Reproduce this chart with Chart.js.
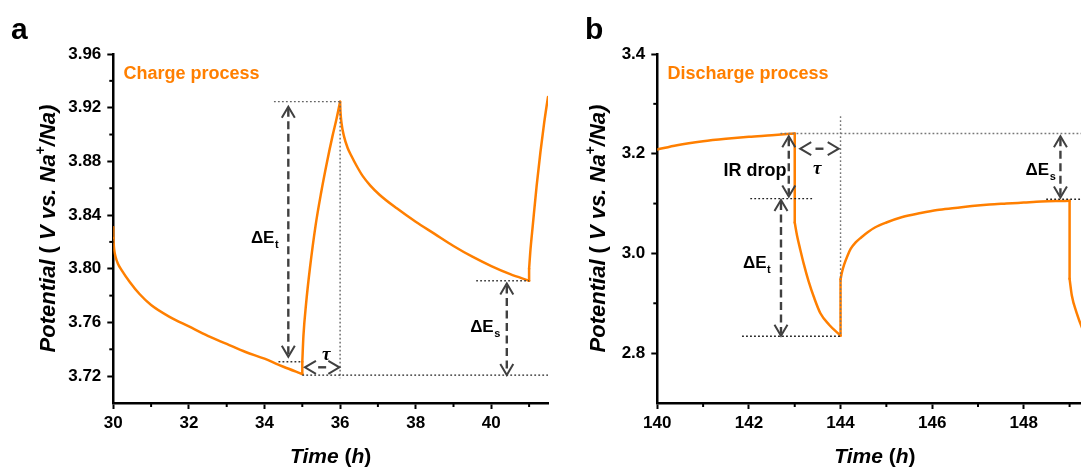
<!DOCTYPE html>
<html><head><meta charset="utf-8">
<script src="https://cdn.jsdelivr.net/npm/chart.js@4.4.0/dist/chart.umd.min.js"></script>
<style>
html,body{margin:0;padding:0;background:#fff;overflow:hidden;width:1081px;height:467px;position:relative;}
.wrap{position:absolute;top:0;width:560px;height:467px;}
</style></head><body>
<div class="wrap" style="left:0"><canvas id="cA" width="560" height="467"></canvas></div>
<div class="wrap" style="left:560px"><canvas id="cB" width="560" height="467"></canvas></div>
<script>
// ---------- data (a repeated time = vertical step) ----------
const timeA = [30.0,30.0,30.02,30.06,30.12,30.22,30.44,30.7,31.0,31.5,32.0,32.5,33.0,33.5,34.0,34.5,35.0,
  35.0,35.03,35.1,35.2,35.35,35.5,35.65,35.8,35.9,36.0,
  36.01,36.04,36.1,36.2,36.3,36.45,36.6,36.8,37.05,37.5,38.0,38.5,39.0,39.5,40.0,40.5,41.0,
  41.0,41.03,41.1,41.2,41.3,41.4,41.5,41.6];
const potA = [3.831,3.823,3.815,3.809,3.804,3.799,3.790,3.781,3.773,3.764,3.757,3.750,3.744,3.738,3.733,3.727,3.7216,
  3.7307,3.750,3.774,3.800,3.832,3.857,3.879,3.899,3.911,3.9245,
  3.917,3.908,3.899,3.890,3.884,3.876,3.869,3.862,3.855,3.845,3.835,3.826,3.817,3.809,3.802,3.796,3.7911,
  3.800,3.812,3.833,3.862,3.887,3.909,3.928,3.945];
const timeB = [140.0,140.43,141.0,141.5,142.0,142.5,143.0,
  143.0,143.05,143.12,143.2,143.3,143.42,143.56,143.75,144.0,
  144.0,144.03,144.08,144.15,144.22,144.33,144.45,144.6,144.75,145.0,145.35,145.75,146.11,146.5,146.87,147.25,147.62,148.0,148.38,148.7,149.0,
  149.0,149.05,149.15,149.28,149.4,149.5];
const potB = [3.2084,3.217,3.225,3.230,3.234,3.237,3.2405,
  3.062,3.036,3.008,2.978,2.945,2.912,2.880,2.857,2.835,
  2.948,2.962,2.978,2.995,3.009,3.022,3.032,3.043,3.052,3.062,3.073,3.081,3.087,3.091,3.095,3.098,3.100,3.102,3.104,3.105,3.1055,
  2.949,2.915,2.882,2.849,2.825,2.808];
const xTicksA = [30,32,34,36,38,40];
const xMinorA = [31,33,35,37,39,41];
const yTicksA = [3.72,3.76,3.80,3.84,3.88,3.92,3.96];
const yMinorA = [3.74,3.78,3.82,3.86,3.90,3.94];
const xTicksB = [140,142,144,146,148];
const xMinorB = [141,143,145,147,149];
const yTicksB = [2.8,3.0,3.2,3.4];
const yMinorB = [2.9,3.1,3.3];

const ORANGE = '#FF7F00';
const FONT = "'Liberation Sans', Arial, sans-serif";
const ARROW = '#404040';

const annA = [
  {type:'hdot', y:3.9245, x1:34.25, x2:36.0, c:'#666'},
  {type:'vdot', x:36.0, y1:3.9245, y2:3.7185, c:'#666'},
  {type:'hdot', y:3.7307, x1:34.37, x2:35.0, c:'#333'},
  {type:'hdot', y:3.7208, x1:35.0, x2:41.5, c:'#222'},
  {type:'hdot', y:3.7911, x1:39.6, x2:41.0, c:'#444'},
  {type:'varrow', x:34.63, y1:3.9207, y2:3.7344},
  {type:'harrow', y:3.7266, x1:35.07, x2:35.98},
  {type:'varrow', x:40.41, y1:3.7891, y2:3.7208},
  {type:'delta', x:33.64, y:3.819, sub:'t'},
  {type:'delta', x:39.44, y:3.7528, sub:'s'},
  {type:'tau', x:35.63, y:3.7324},
  {type:'text', x:30.27, y:3.9414, text:'Charge process', color:ORANGE}
];
const annB = [
  {type:'hdot', y:3.2406, x1:142.69, x2:149.5, c:'#777'},
  {type:'vdot', x:144.0, y1:3.2752, y2:2.835, c:'#777'},
  {type:'hdot', y:3.110, x1:142.03, x2:143.38, c:'#222'},
  {type:'hdot', y:2.834, x1:141.85, x2:144.0, c:'#222'},
  {type:'hdot', y:3.1086, x1:148.49, x2:149.5, c:'#222'},
  {type:'varrow', x:142.87, y1:3.2352, y2:3.114},
  {type:'varrow', x:142.70, y1:3.1072, y2:2.835},
  {type:'harrow', y:3.21, x1:143.12, x2:143.96},
  {type:'varrow', x:148.8, y1:3.2352, y2:3.112},
  {type:'text', x:141.445, y:3.155, text:'IR drop', color:'#000'},
  {type:'delta', x:141.87, y:2.9714, sub:'t'},
  {type:'delta', x:148.04, y:3.1566, sub:'s'},
  {type:'tau', x:143.49, y:3.1596},
  {type:'text', x:140.22, y:3.3494, text:'Discharge process', color:ORANGE}
];

// split a trace into smooth monotone runs; repeated times become straight vertical steps
function splitRuns(times, pots){
  const runs = [];
  let cur = [{x: times[0], y: pots[0]}], dir = 0;
  for (let i = 1; i < times.length; i++){
    if (times[i] === times[i-1]){
      if (cur.length > 1) runs.push({pts: cur, smooth: true});
      runs.push({pts: [{x: times[i-1], y: pots[i-1]}, {x: times[i], y: pots[i]}], smooth: false});
      cur = [{x: times[i], y: pots[i]}]; dir = 0;
      continue;
    }
    const d = Math.sign(pots[i] - pots[i-1]);
    if (dir !== 0 && d !== 0 && d !== dir){
      runs.push({pts: cur, smooth: true});
      cur = [{x: times[i-1], y: pots[i-1]}];
    }
    if (d !== 0) dir = d;
    cur.push({x: times[i], y: pots[i]});
  }
  if (cur.length > 1) runs.push({pts: cur, smooth: true});
  return runs;
}

// ---------- drawing helpers ----------
function chevron(ctx, tx, ty, dx, dy){
  const L = 11, W = 6.5;
  const px = -dy, py = dx;
  ctx.beginPath();
  ctx.moveTo(tx + dx*L + px*W, ty + dy*L + py*W);
  ctx.lineTo(tx, ty);
  ctx.lineTo(tx + dx*L - px*W, ty + dy*L - py*W);
  ctx.stroke();
}
function fontOf(p){ return (p.it ? 'italic ' : '') + 'bold ' + (p.size||22) + 'px ' + FONT; }
function richWidth(ctx, pieces){
  let w = 0;
  for (const p of pieces){ ctx.font = fontOf(p); w += ctx.measureText(p.t).width; }
  return w;
}
function drawRich(ctx, pieces, cx, by){
  const w = richWidth(ctx, pieces);
  let x = cx - w/2;
  ctx.textAlign = 'left'; ctx.textBaseline = 'alphabetic'; ctx.fillStyle = '#000';
  for (const p of pieces){
    ctx.font = fontOf(p);
    ctx.fillText(p.t, x, by + (p.dy||0));
    x += ctx.measureText(p.t).width;
  }
}
const yTitlePieces = [{t:'Potential',it:true},{t:' ( ',it:false},{t:'V vs. Na',it:true},{t:'+',it:false,size:14,dy:-10},{t:'/Na)',it:true}];
const xTitlePieces = [{t:'Time',it:true,size:21},{t:' (',it:false,size:21},{t:'h',it:true,size:21},{t:')',it:false,size:21}];

function makePlugin(ann, xMinor, yMinor, letter, letterX, yTitleX){
  return {
    id:'deco',
    afterDatasetsDraw(chart){
      const ctx = chart.ctx, xs = chart.scales.x, ys = chart.scales.y;
      const X = v => xs.getPixelForValue(v), Y = v => ys.getPixelForValue(v);
      ctx.save();
      for (const a of ann){
        if (a.type === 'hdot' || a.type === 'vdot'){
          ctx.strokeStyle = a.c; ctx.lineWidth = 1.4; ctx.setLineDash([1.8,2.2]);
          ctx.beginPath();
          if (a.type === 'hdot'){ ctx.moveTo(X(a.x1), Y(a.y)); ctx.lineTo(X(a.x2), Y(a.y)); }
          else { ctx.moveTo(X(a.x), Y(a.y1)); ctx.lineTo(X(a.x), Y(a.y2)); }
          ctx.stroke(); ctx.setLineDash([]);
        } else if (a.type === 'varrow'){
          const x = X(a.x), y1 = Y(a.y1), y2 = Y(a.y2);
          ctx.strokeStyle = ARROW; ctx.lineWidth = 2.4; ctx.lineCap = 'butt';
          ctx.setLineDash([8,4.5]);
          ctx.beginPath(); ctx.moveTo(x, y1+2); ctx.lineTo(x, y2-2); ctx.stroke();
          ctx.setLineDash([]); ctx.lineWidth = 2;
          chevron(ctx, x, y1, 0, 1); chevron(ctx, x, y2, 0, -1);
        } else if (a.type === 'harrow'){
          const x1 = X(a.x1), x2 = X(a.x2), y = Y(a.y);
          ctx.strokeStyle = ARROW; ctx.lineWidth = 2;
          chevron(ctx, x1, y, 1, 0); chevron(ctx, x2, y, -1, 0);
          ctx.lineWidth = 2.4;
          const m = (x1+x2)/2;
          ctx.beginPath(); ctx.moveTo(m-4, y); ctx.lineTo(m+4, y); ctx.stroke();
        } else if (a.type === 'delta'){
          ctx.fillStyle = '#000'; ctx.textAlign = 'left'; ctx.textBaseline = 'alphabetic';
          ctx.font = 'bold 17px ' + FONT;
          const x = X(a.x), y = Y(a.y);
          ctx.fillText('ΔE', x, y);
          const w = ctx.measureText('ΔE').width;
          ctx.font = 'bold 11px ' + FONT;
          ctx.fillText(a.sub, x + w + 0.5, y + 5);
        } else if (a.type === 'tau'){
          ctx.fillStyle = '#000'; ctx.textAlign = 'center'; ctx.textBaseline = 'alphabetic';
          ctx.font = "italic bold 19px 'Liberation Serif', 'DejaVu Serif', serif";
          ctx.fillText('τ', X(a.x), Y(a.y));
        } else if (a.type === 'text'){
          ctx.fillStyle = a.color; ctx.textAlign = 'left'; ctx.textBaseline = 'alphabetic';
          ctx.font = 'bold 18px ' + FONT;
          ctx.fillText(a.text, X(a.x), Y(a.y));
        }
      }
      ctx.restore();
    },
    afterDraw(chart){
      const ctx = chart.ctx, xs = chart.scales.x, ys = chart.scales.y, ca = chart.chartArea;
      ctx.save();
      ctx.strokeStyle = '#000'; ctx.lineWidth = 2;
      for (const v of xMinor){
        const x = xs.getPixelForValue(v);
        ctx.beginPath(); ctx.moveTo(x, ca.bottom); ctx.lineTo(x, ca.bottom + 4); ctx.stroke();
      }
      for (const v of yMinor){
        const y = ys.getPixelForValue(v);
        ctx.beginPath(); ctx.moveTo(ca.left, y); ctx.lineTo(ca.left - 4, y); ctx.stroke();
      }
      drawRich(ctx, xTitlePieces, (ca.left + ca.right) / 2, 463);
      ctx.save();
      ctx.translate(yTitleX, (ca.top + ca.bottom) / 2);
      ctx.rotate(-Math.PI/2);
      drawRich(ctx, yTitlePieces, 0, 0);
      ctx.restore();
      ctx.fillStyle = '#000'; ctx.textAlign = 'left'; ctx.textBaseline = 'alphabetic';
      ctx.font = 'bold 30px ' + FONT;
      ctx.fillText(letter, letterX, 39);
      ctx.restore();
    }
  };
}

function buildChart(id, times, pots, opts){
  const runs = splitRuns(times, pots);
  const tickFont = {family: FONT, size: 17, weight: 'bold'};
  return new Chart(document.getElementById(id), {
    type: 'line',
    data: {datasets: runs.map(r => ({data: r.pts, borderColor: ORANGE, borderWidth: 2.5, pointRadius: 0,
      cubicInterpolationMode: r.smooth ? 'monotone' : 'default', tension: 0,
      borderCapStyle: 'round', borderJoinStyle: 'round', fill: false}))},
    options: {
      responsive: false, animation: false, devicePixelRatio: 1,
      layout: {padding: {top: 54, left: 0, right: opts.padRight, bottom: 0}},
      plugins: {legend: {display: false}, tooltip: {enabled: false}},
      scales: {
        x: {
          type: 'linear', min: opts.xmin, max: opts.xmax,
          afterBuildTicks: s => { s.ticks = opts.xTicks.map(v => ({value: v})); },
          afterFit: s => { s.height = 64; },
          ticks: {font: tickFont, color: '#000', padding: 4, maxRotation: 0, callback: v => String(v)},
          grid: {display: true, drawOnChartArea: false, drawTicks: true, tickLength: 6, tickWidth: 2, tickColor: '#000'},
          border: {display: true, color: '#000', width: 2.5},
          title: {display: false}
        },
        y: {
          type: 'linear', min: opts.ymin, max: opts.ymax,
          afterBuildTicks: s => { s.ticks = opts.yTicks.map(v => ({value: v})); },
          afterFit: s => { s.width = opts.yWidth; },
          ticks: {font: tickFont, color: '#000', padding: 6, callback: v => v.toFixed(opts.dec)},
          grid: {display: true, drawOnChartArea: false, drawTicks: true, tickLength: 6, tickWidth: 2, tickColor: '#000'},
          border: {display: true, color: '#000', width: 2.5},
          title: {display: false}
        }
      }
    },
    plugins: [opts.plugin]
  });
}

buildChart('cA', timeA, potA, {
  xmin: 30, xmax: 41.5, ymin: 3.70, ymax: 3.96, xTicks: xTicksA, yTicks: yTicksA, dec: 2,
  yWidth: 113.3, padRight: 12,
  plugin: makePlugin(annA, xMinorA, yMinorA, 'a', 11, 55)
});
buildChart('cB', timeB, potB, {
  xmin: 140, xmax: 149.5, ymin: 2.7, ymax: 3.4, xTicks: xTicksB, yTicks: yTicksB, dec: 1,
  yWidth: 97.3, padRight: 27.5,
  plugin: makePlugin(annB, xMinorB, yMinorB, 'b', 25, 44.5)
});
</script>
</body></html>
